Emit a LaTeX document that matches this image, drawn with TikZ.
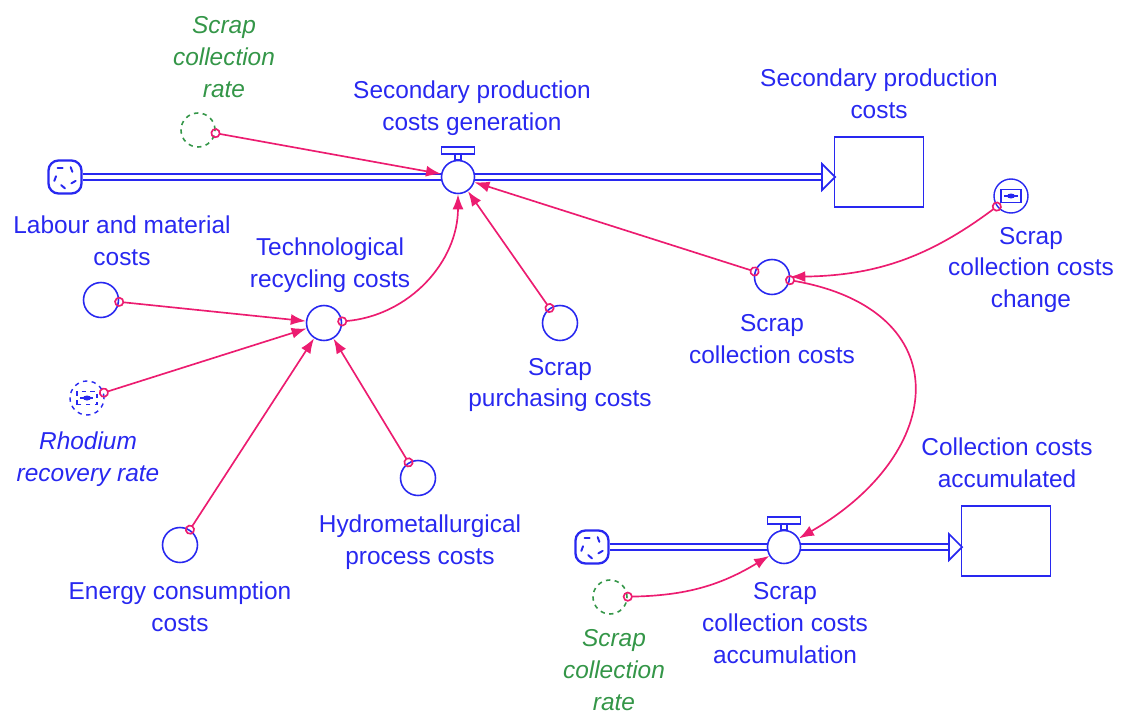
\documentclass[tikz,border=0pt]{standalone}
\usepackage{fontspec}
\setmainfont{Liberation Sans}
\usetikzlibrary{arrows.meta}

\definecolor{simblue}{RGB}{40,40,240}
\definecolor{simpink}{RGB}{236,28,112}
\definecolor{simgreen}{RGB}{52,150,72}

\begin{document}
\begin{tikzpicture}[x=0.02cm, y=-0.02cm,
    aux/.style={circle, draw=simblue, line width=0.9pt, fill=white, minimum size=0.7cm, inner sep=0pt},
    ghost/.style={circle, draw=simgreen, dash pattern=on 2.5pt off 2.5pt, line width=0.9pt, minimum size=0.68cm, inner sep=0pt},
    conv/.style={circle, draw=simblue, line width=0.8pt, minimum size=0.68cm, inner sep=0pt,
      path picture={
        \draw[simblue, line width=1.1pt] ([xshift=-0.2cm,yshift=-0.13cm]path picture bounding box.center) rectangle ([xshift=0.2cm,yshift=0.13cm]path picture bounding box.center);
        \draw[simblue, line width=0.7pt] ([xshift=-0.14cm]path picture bounding box.center) -- ([xshift=0.14cm]path picture bounding box.center);
        \fill[simblue] (path picture bounding box.center) ellipse (0.08cm and 0.05cm);
      }},
    cloud/.style={rectangle, rounded corners=0.2cm, draw=simblue, line width=1.3pt, minimum size=0.66cm, inner sep=0pt, fill=white,
      path picture={
        \foreach \a in {35,105,175,245,315}
          \draw[simblue, line width=1.1pt, line cap=round] ([shift={(\a:0.18cm)}]path picture bounding box.center) -- ++(\a+75:0.1cm);
      }},
    valve/.style={circle, draw=simblue, line width=0.9pt, fill=white, minimum size=0.66cm, inner sep=0pt},
    valvetop/.style={draw=simblue, line width=1pt, fill=white},
    stock/.style={rectangle, draw=simblue, line width=1.1pt, fill=white, minimum width=1.78cm, minimum height=1.4cm},
    pipe/.style={draw=simblue, double=white, line width=1.1pt, double distance=2.3pt},
    pipehead/.style={draw=simblue, line width=1pt, fill=white, line join=miter},
    link/.style={draw=simpink, line width=0.95pt, shorten <=-0.1cm,
      {Circle[open, length=0.2cm, width=0.2cm]}-{Latex[length=0.3cm, width=0.22cm]}},
    lbl/.style={text=simblue, align=center, inner sep=0pt, font=\fontsize{13.9}{18.2}\selectfont},
    glbl/.style={lbl, text=simgreen, font=\fontsize{13.9}{18.2}\selectfont\itshape},
    ilbl/.style={lbl, font=\fontsize{13.9}{18.2}\selectfont\itshape}]
        \useasboundingbox (0,0) rectangle (1123,713);

        % flows and stocks
        \node [cloud] (cloud1) at (65,177) {};
        \node [stock] (stock1) at (879,172) {};
        \coordinate (head1) at (822,177);
        \draw [pipe] (cloud1.east) -- (head1);
        \draw [pipehead] (head1) ++(0,-13) -- ++(13,13) -- ++(-13,13) -- cycle;
        \node [valve] (valve1) at (458,177) {};
        \draw [valvetop] ([xshift=-0.06cm]valve1.north) rectangle ([xshift=0.06cm,yshift=0.11cm]valve1.north);
        \draw [valvetop] ([xshift=-0.33cm,yshift=0.11cm]valve1.north) rectangle ([xshift=0.33cm,yshift=0.25cm]valve1.north);

        \node [cloud] (cloud2) at (592,547) {};
        \node [stock] (stock2) at (1006,541) {};
        \coordinate (head2) at (949,547);
        \draw [pipe] (cloud2.east) -- (head2);
        \draw [pipehead] (head2) ++(0,-13) -- ++(13,13) -- ++(-13,13) -- cycle;
        \node [valve] (valve2) at (784,547) {};
        \draw [valvetop] ([xshift=-0.06cm]valve2.north) rectangle ([xshift=0.06cm,yshift=0.11cm]valve2.north);
        \draw [valvetop] ([xshift=-0.33cm,yshift=0.11cm]valve2.north) rectangle ([xshift=0.33cm,yshift=0.25cm]valve2.north);

        % auxiliaries
        \node [ghost] (ghost1) at (198,130) {};
        \node [aux] (labour) at (101,300) {};
        \node [aux] (tech) at (324,323) {};
        \node [conv, dash pattern=on 2.5pt off 2.5pt] (rhodium) at (87,398) {};
        \node [aux] (energy) at (180,545) {};
        \node [aux] (hydro) at (418,478) {};
        \node [aux] (purchasing) at (560,323) {};
        \node [aux] (scc) at (772,277) {};
        \node [conv] (sccchange) at (1011,196) {};
        \node [ghost] (ghost2) at (610,597) {};

        % labels
        \node [glbl] (tghost1) at (224,57) {Scrap\\collection\\rate};
        \node [lbl] (tvalve1) at (472,108) {Secondary production\\costs generation};
        \node [lbl] (tstock1) at (879,94) {Secondary production\\costs};
        \node [lbl] (tlabour) at (122,241) {Labour and material\\costs};
        \node [lbl] (ttech) at (330,265) {Technological\\recycling costs};
        \node [lbl] (tsccchange) at (1031,270) {Scrap\\collection costs\\change};
        \node [lbl] (tscc) at (772,339) {Scrap\\collection costs};
        \node [lbl] (tpurchasing) at (560,385) {Scrap\\purchasing costs};
        \node [ilbl] (trhodium) at (88,459) {Rhodium\\recovery rate};
        \node [lbl] (tstock2) at (1007,463) {Collection costs\\accumulated};
        \node [lbl] (thydro) at (420,542) {Hydrometallurgical\\process costs};
        \node [lbl] (tenergy) at (180,607) {Energy consumption\\costs};
        \node [lbl] (tvalve2) at (785,623) {Scrap\\collection costs\\accumulation};
        \node [glbl] (tghost2) at (614,670) {Scrap\\collection\\rate};

        % links
        \draw [link] (ghost1) -- (valve1);
        \draw [link] (labour) -- (tech);
        \draw [link] (rhodium) -- (tech);
        \draw [link] (energy) -- (tech);
        \draw [link] (hydro) -- (tech);
        \draw [link] (tech) to[out=5, in=-90] (valve1);
        \draw [link] (purchasing) -- (valve1);
        \draw [link] (scc) -- (valve1);
        \draw [link] (sccchange) to[bend left=18] (scc);
        \draw [link] (scc) to[out=-10, in=30, looseness=1.7] (valve2);
        \draw [link] (ghost2) to[bend right=15] (valve2);
\end{tikzpicture}
\end{document}
